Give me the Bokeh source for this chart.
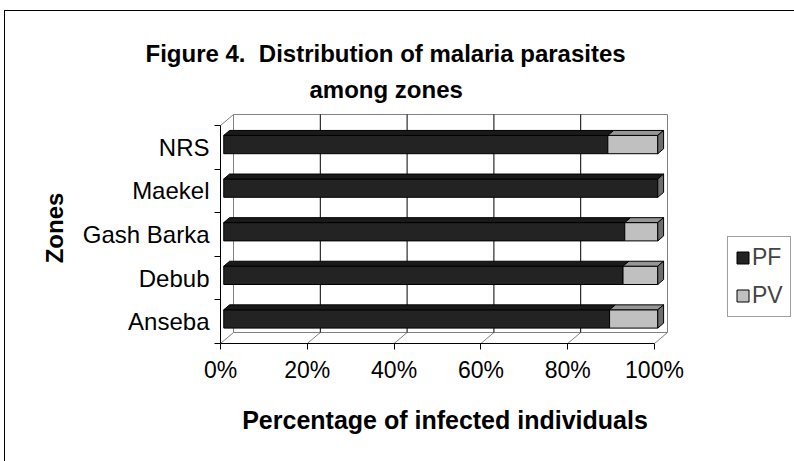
from bokeh.plotting import figure
from bokeh.models import (FixedTicker, Legend, LegendItem, Title, InlineStyleSheet,
                          Range1d, ColumnDataSource, NumeralTickFormatter)
from bokeh.embed import file_html
from bokeh.resources import INLINE

# ---------------- data ----------------
zones = ["Anseba", "Debub", "Gash Barka", "Maekel", "NRS"]
pf_share = [0.889, 0.920, 0.924, 1.000, 0.885]
pv_share = [0.111, 0.080, 0.076, 0.000, 0.115]
series_names = ["PF", "PV"]
x_ticks = [0.0, 0.2, 0.4, 0.6, 0.8, 1.0]
title_lines = ["Figure 4.\u00a0 Distribution of malaria parasites", "among zones"]
x_title = "Percentage of infected individuals"
y_title = "Zones"

# ---------------- styling / geometry ----------------
FONT = "Liberation Sans"
PF_FRONT, PF_TOP = "#232323", "#1a1a1a"
PV_FRONT, PV_TOP = "#c0c0c0", "#969696"
SIDE = "#6e6e6e"
WALL = "#808080"

PX_X = 434.0          # px per 100 %
PX_Y = 43.6           # px per category band
DEPTH_PX_X, DEPTH_PX_Y = 13.0, 11.0
n = len(zones)
DX = DEPTH_PX_X / PX_X
DY = DEPTH_PX_Y / PX_Y
F1, F2 = 0.25, 0.70   # bar front / back depth fraction
HALF = 0.21           # half bar height (category units)

frame_w = int(PX_X + DEPTH_PX_X + 2)
frame_h = int(PX_Y * n + DEPTH_PX_Y + 2)
left_b, top_b = 220, 112
W, H = 794, 461

p = figure(frame_width=frame_w, frame_height=frame_h,
           min_border_left=left_b, min_border_top=top_b,
           min_border_right=W - left_b - frame_w,
           min_border_bottom=H - top_b - frame_h,
           x_range=Range1d(0, frame_w / PX_X), y_range=Range1d(0, frame_h / PX_Y),
           output_backend="svg", toolbar_location=None,
           background_fill_color="white", border_fill_color="white")
p.outline_line_color = None
p.xgrid.visible = False
p.ygrid.visible = False

# ---- floor ----
p.patch([0, 1, 1 + DX, DX], [0, 0, DY, DY], fill_color="white", line_color=None)
p.segment(x0=x_ticks, y0=[0] * len(x_ticks),
          x1=[t + DX for t in x_ticks], y1=[DY] * len(x_ticks),
          line_color=WALL, line_width=1)
# ---- back wall ----
p.quad(left=[DX], right=[1 + DX], bottom=[DY], top=[n + DY],
       fill_color="white", line_color=WALL, line_width=1)
inner = x_ticks[1:-1]
p.segment(x0=[t + DX for t in inner], y0=[DY] * len(inner),
          x1=[t + DX for t in inner], y1=[n + DY] * len(inner),
          line_color="black", line_width=1)
# ---- left wall top edge ----
p.segment(x0=[0], y0=[n], x1=[DX], y1=[n + DY], line_color=WALL, line_width=1)

# ---- bars ----
front = {k: dict(left=[], right=[], bottom=[], top=[]) for k in series_names}
tops = {k: dict(xs=[], ys=[]) for k in series_names}
side = dict(xs=[], ys=[])
for i, z in enumerate(zones):
    c = i + 0.5
    b, t = c - HALF, c + HALF
    segs = [("PF", 0.0, pf_share[i]), ("PV", pf_share[i], pf_share[i] + pv_share[i])]
    for name, x0, x1 in segs:
        if x1 - x0 <= 0:
            continue
        front[name]["left"].append(x0 + F1 * DX)
        front[name]["right"].append(x1 + F1 * DX)
        front[name]["bottom"].append(b + F1 * DY)
        front[name]["top"].append(t + F1 * DY)
        tops[name]["xs"].append([x0 + F1 * DX, x1 + F1 * DX, x1 + F2 * DX, x0 + F2 * DX])
        tops[name]["ys"].append([t + F1 * DY, t + F1 * DY, t + F2 * DY, t + F2 * DY])
    xe = pf_share[i] + pv_share[i]
    side["xs"].append([xe + F1 * DX, xe + F2 * DX, xe + F2 * DX, xe + F1 * DX])
    side["ys"].append([b + F1 * DY, b + F2 * DY, t + F2 * DY, t + F1 * DY])

colors = {"PF": (PF_FRONT, PF_TOP), "PV": (PV_FRONT, PV_TOP)}
front_r = {}
for name in series_names:
    fc, tc = colors[name]
    front_r[name] = p.quad(source=ColumnDataSource(front[name]), left="left", right="right",
                           bottom="bottom", top="top", fill_color=fc,
                           line_color="black", line_width=1)
    p.patches(source=ColumnDataSource(tops[name]), xs="xs", ys="ys",
              fill_color=tc, line_color="black", line_width=1)
p.patches(source=ColumnDataSource(side), xs="xs", ys="ys",
          fill_color=SIDE, line_color="black", line_width=1)

# ---- axes ----
xa = p.xaxis[0]
xa.ticker = FixedTicker(ticks=x_ticks)
xa.formatter = NumeralTickFormatter(format="0%")
xa.bounds = (0, 1)
xa.axis_line_color = "black"
xa.major_tick_in = 0
xa.major_tick_out = 6
xa.minor_tick_out = 0
xa.major_label_standoff = 7
xa.major_label_text_font = FONT
xa.major_label_text_font_size = "23px"
xa.major_label_text_color = "black"
xa.axis_label = x_title
xa.axis_label_text_font = FONT
xa.axis_label_text_font_size = "25px"
xa.axis_label_text_font_style = "bold"
xa.axis_label_text_color = "black"
xa.axis_label_standoff = 20

centers = [i + 0.5 for i in range(n)]
ya = p.yaxis[0]
ya.ticker = FixedTicker(ticks=centers, minor_ticks=list(range(n + 1)))
ya.major_label_overrides = {cv: z for cv, z in zip(centers, zones)}
ya.bounds = (0, n)
ya.axis_line_color = "black"
ya.major_tick_in = 0
ya.major_tick_out = 0
ya.minor_tick_in = 0
ya.minor_tick_out = 6
ya.minor_tick_line_color = "black"
ya.major_label_standoff = 5
ya.major_label_text_font = FONT
ya.major_label_text_font_size = "24px"
ya.major_label_text_color = "black"
ya.axis_label = y_title
ya.axis_label_text_font = FONT
ya.axis_label_text_font_size = "24px"
ya.axis_label_text_font_style = "bold"
ya.axis_label_text_color = "black"
ya.axis_label_standoff = 12

# ---- title (two lines, stacked above the frame) ----
p.title.visible = False
title_specs = [(title_lines[1], 89, 15), (title_lines[0], -75, 0)]   # nearest line first
for line, off, so in title_specs:
    p.add_layout(Title(text=line, align="left", offset=off, standoff=so,
                       vertical_align="top", text_font=FONT,
                       text_font_size="24px", text_font_style="bold",
                       text_color="black"), "above")

# ---- legend (right panel) ----
legend = Legend(items=[LegendItem(label=nm, renderers=[front_r[nm]]) for nm in series_names],
                location=(727 - (left_b + frame_w), (top_b + frame_h) - 317),
                glyph_width=15, glyph_height=15, label_standoff=2,
                label_text_font=FONT, label_text_font_size="23px", label_height=24,
                padding=7, spacing=11, margin=0,
                border_line_color="#404040", border_line_width=1,
                background_fill_color="white", background_fill_alpha=1)
p.add_layout(legend, "right")

# ---- chart-area border (left/top edges visible in the reference) ----
p.stylesheets = [InlineStyleSheet(css=(
    ":host::after { content: ''; position: absolute; left: 4px; top: 10px; "
    "right: 0px; bottom: 0px; border-left: 1px solid black; "
    "border-top: 1px solid black; pointer-events: none; }"))]

open("out.html", "w").write(file_html(p, INLINE))
